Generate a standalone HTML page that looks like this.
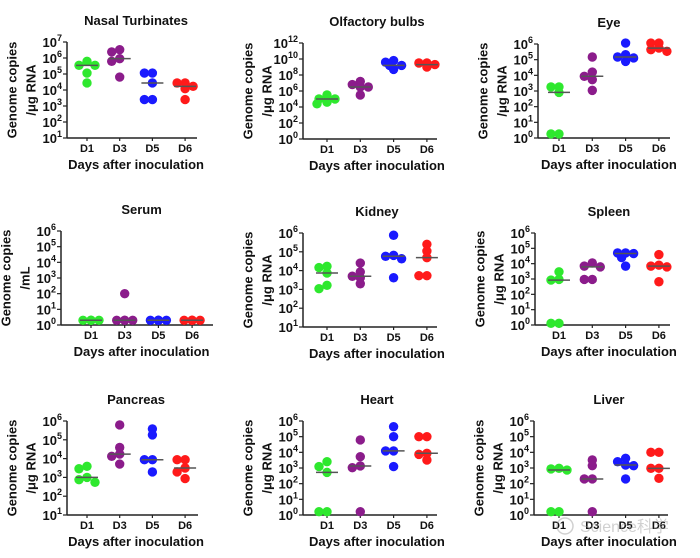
<!DOCTYPE html>
<html><head><meta charset="utf-8"><style>
html,body{margin:0;padding:0;background:#fff;}
svg{display:block;font-family:"Liberation Sans","Noto Sans CJK SC",sans-serif;}
</style></head><body>
<svg id="fig" width="700" height="558" viewBox="0 0 700 558" xmlns="http://www.w3.org/2000/svg"></svg>
<script>
const categories = ["D1","D3","D5","D6"];
const colors = ["#2ee82e","#8b1c8b","#1a1aff","#ff1a1a"];
const titles = ["Nasal Turbinates","Olfactory bulbs","Eye","Serum","Kidney","Spleen","Pancreas","Heart","Liver"];
// values are log10 of genome copies
const nasalValues = [[5.79,5.54,5.54,5.06,4.44],[6.52,6.38,5.96,5.79,4.81],[5.06,5.06,4.44,3.4,3.4],[4.44,4.44,4.23,4.08,3.4]];
const olfactoryValues = [[5.5,5.0,5.0,4.6,4.4],[7.2,6.8,6.5,6.5,5.5],[9.8,9.6,9.2,9.2,8.7],[9.5,9.5,9.3,9.3,9.0]];
const eyeValues = [[3.26,3.26,2.91,0.26,0.26],[5.17,4.21,3.94,3.72,3.04],[6.06,5.32,5.17,5.11,4.89],[6.06,6.06,5.74,5.64,5.53]];
const serumValues = [[0.3,0.3,0.3,0.3,0.3],[2.0,0.3,0.3,0.3,0.3],[0.3,0.3,0.3,0.3,0.3],[0.3,0.3,0.3,0.3,0.3]];
const kidneyValues = [[4.23,4.16,3.87,3.22,3.04],[4.4,3.93,3.7,3.62,3.3],[5.88,4.81,4.76,4.63,3.62],[5.4,5.04,4.69,3.73,3.73]];
const spleenValues = [[3.47,2.97,2.93,0.11,0.11],[4.05,3.84,3.79,2.97,2.97],[4.7,4.7,4.66,4.4,3.84],[4.59,3.9,3.84,3.79,2.82]];
const pancreasValues = [[3.59,3.46,3.0,2.88,2.74],[5.79,4.59,4.24,4.12,3.71],[5.58,5.26,3.94,3.94,3.29],[3.94,3.94,3.5,3.29,2.94]];
const heartValues = [[3.4,3.09,2.72,0.21,0.21],[4.79,3.72,3.13,3.02,0.21],[5.64,5.0,4.09,4.09,3.09],[5.0,5.0,3.94,3.87,3.51]];
const liverValues = [[2.98,2.94,2.87,0.21,0.21],[3.51,3.15,2.3,2.3,0.21],[3.62,3.4,3.19,3.15,2.3],[4.0,4.0,2.98,2.98,2.34]];
const yUnits = ["/\u03bcg RNA","/\u03bcg RNA","/\u03bcg RNA","/mL","/\u03bcg RNA","/\u03bcg RNA","/\u03bcg RNA","/\u03bcg RNA","/\u03bcg RNA"];
const yRanges = [[1,7,1],[0,12,2],[0,6,1],[0,6,1],[1,6,1],[0,6,1],[1,6,1],[0,6,1],[0,6,1]];

const allValues = [nasalValues,olfactoryValues,eyeValues,serumValues,kidneyValues,spleenValues,pancreasValues,heartValues,liverValues];
// layout: axL, axR, yTop, yBot, d1x, spacing
const layout = [
 [67,197,42,138,87,32.7],[303,437,43,139,327,33.3],[538,670,44,138,559,33.3],
 [61,213,231,325,91,33.7],[303,437,233,327,327,33.3],[535,670,233,325,559,33.3],
 [67,198,421,515,87,32.7],[303,437,421,515,327,33.3],[534,668,421,515,559,33.3]];

const NS="http://www.w3.org/2000/svg";
const svg=document.getElementById('fig');
function mk(tag,attrs,parent){const e=document.createElementNS(NS,tag);for(const k in attrs)e.setAttribute(k,attrs[k]);(parent||svg).appendChild(e);return e;}
function median(a){const s=[...a].sort((x,y)=>x-y);return s[Math.floor(s.length/2)];}

layout.forEach((L,pi)=>{
  const [axL,axR,yTop,yBot,d1x,sp]=L;
  const [lo,hi,step]=yRanges[pi];
  const g=mk('g',{});
  
  
  const yS=v=>yBot-(v-lo)/(hi-lo)*(yBot-yTop);
  const xS=i=>d1x+i*sp;
  const cx=d1x+1.5*sp;
  const t=mk('text',{x:cx,y:yTop-17,'text-anchor':'middle','font-size':13,'font-weight':'bold',fill:'#111'},g);
  t.textContent=titles[pi];
  
  
  const ya=mk('line',{x1:axL,y1:yTop,x2:axL,y2:yBot,stroke:'#222','stroke-width':1.5},g);
  
  
  const xa=mk('line',{x1:axL,y1:yBot,x2:axR,y2:yBot,stroke:'#222','stroke-width':1.5},g);
  
  
  for(let v=lo;v<=hi;v+=step){
    const y=yS(v);
    mk('line',{x1:axL-4,y1:y,x2:axL,y2:y,stroke:'#222','stroke-width':1.2},g);
    const tl=mk('text',{x:axL-5,y:y+5,'text-anchor':'end','font-size':13,'font-weight':'bold',fill:'#111'},g);
    
    
    const b=mk('tspan',{},tl);b.textContent='10';
    const e=mk('tspan',{'font-size':9,dy:-6},tl);e.textContent=String(v);
  }
  categories.forEach((c,i)=>{
    const x=xS(i);
    mk('line',{x1:x,y1:yBot,x2:x,y2:yBot+3,stroke:'#222','stroke-width':1.2},g);
    const xl=mk('text',{x:x,y:yBot+14,'text-anchor':'middle','font-size':11,'font-weight':'bold',fill:'#111'},g);
    xl.textContent=c;
    
    
  });
  const xt=mk('text',{x:cx,y:yBot+31,'text-anchor':'middle','font-size':13,'font-weight':'bold',fill:'#111'},g);
  xt.textContent='Days after inoculation';
  
  
  const ym=(yTop+yBot)/2;
  const yt1=mk('text',{x:axL-54,y:ym,'text-anchor':'middle','font-size':13,'font-weight':'bold',fill:'#111',transform:`rotate(-90 ${axL-54} ${ym})`,'dominant-baseline':'middle'},g);
  yt1.textContent='Genome copies';
  
  
  const yt2=mk('text',{x:axL-35,y:ym,'text-anchor':'middle','font-size':13,'font-weight':'bold',fill:'#111',transform:`rotate(-90 ${axL-35} ${ym})`,'dominant-baseline':'middle'},g);
  yt2.textContent=yUnits[pi];
  
  
  allValues[pi].forEach((vals,gi)=>{
    const x0=xS(gi);
    const placed=[];
    const offs=[0,-8,8,-4,4,-10,10];
    [...vals].sort((a,b)=>b-a).forEach(v=>{
      const y=yS(v);
      let dx=0;
      for(const o of offs){ if(placed.every(p=>Math.hypot(p[0]-o,p[1]-y)>=5)){dx=o;break;} }
      placed.push([dx,y]);
      const c=mk('circle',{cx:x0+dx,cy:y,r:4.7,fill:colors[gi]},g);
      
      
    });
    const my=yS(median(vals));
    const ml=mk('line',{x1:x0-11,y1:my,x2:x0+11,y2:my,stroke:'#555','stroke-width':1.5},g);
    
    
  });
});
const wm=mk('g',{opacity:0.45});


mk('circle',{cx:565,cy:526,r:8,fill:'none',stroke:'#999','stroke-width':1.5},wm);
const wt=mk('text',{x:580,y:532,'font-size':16,fill:'#999'},wm);
wt.textContent='Science科学';
</script>
</body></html>
